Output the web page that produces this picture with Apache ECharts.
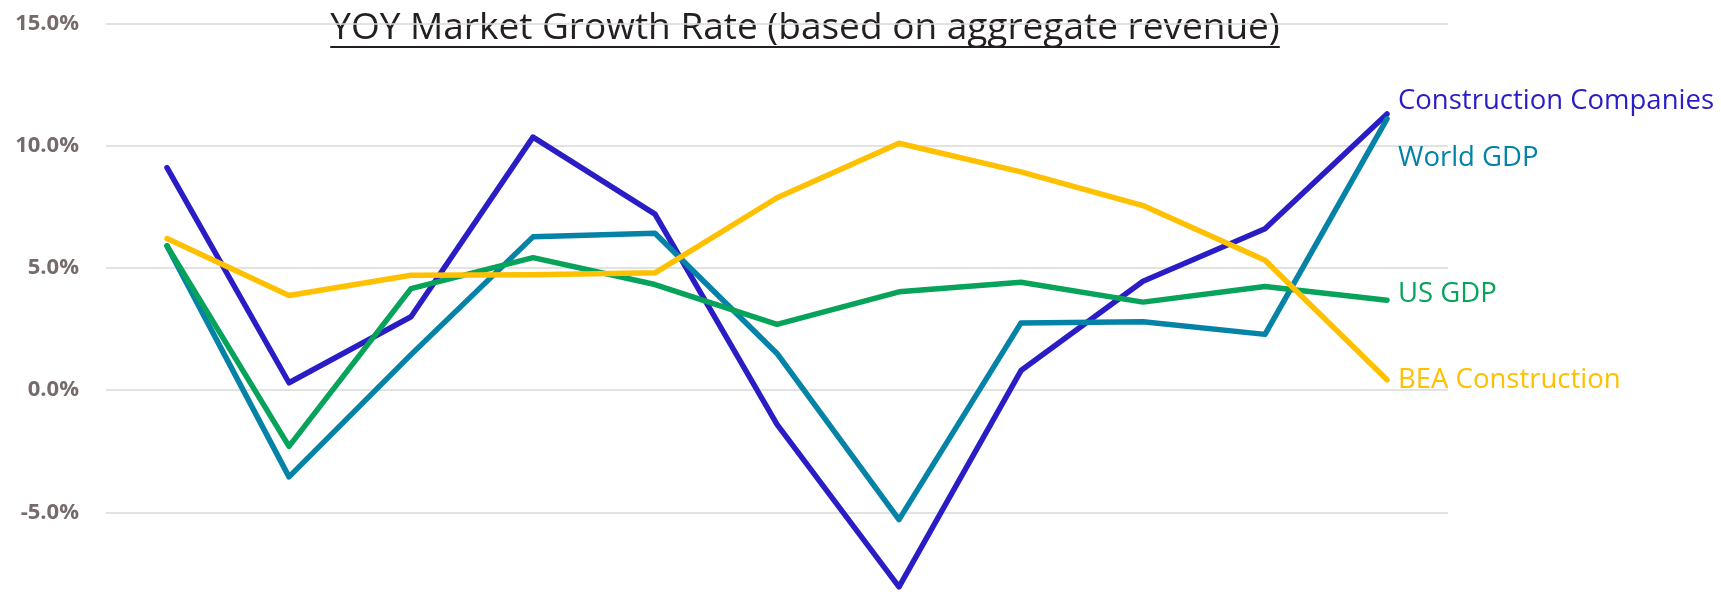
<!doctype html>
<html>
<head>
    <meta charset="utf-8">
    <title>YOY Market Growth Rate</title>
    <script src="https://cdn.jsdelivr.net/npm/echarts@6/dist/echarts.min.js"></script>
    <style>
        html, body { margin: 0; padding: 0; background: #fff; }
    </style>
</head>
<body>

    <div id="main" style="width:1721px;height:594px;"></div>

    <script type="text/javascript">
        var chart = echarts.init(document.getElementById('main'));

        // periods (no axis labels shown in the source chart)
        var periods = ['1', '2', '3', '4', '5', '6', '7', '8', '9', '10', '11'];

        // YOY growth, percent
        var constructionCompanies = [9.1, 0.3, 3.0, 10.35, 7.2, -1.4, -8.05, 0.8, 4.45, 6.6, 11.3];
        var worldGdp = [5.9, -3.55, 1.45, 6.27, 6.42, 1.5, -5.3, 2.75, 2.8, 2.28, 11.1];
        var usGdp = [5.9, -2.3, 4.15, 5.42, 4.32, 2.69, 4.02, 4.41, 3.6, 4.24, 3.68];
        var beaConstruction = [6.2, 3.87, 4.7, 4.72, 4.8, 7.87, 10.1, 8.93, 7.55, 5.31, 0.42];

        var yTicks = [-10, -5, 0, 5, 10, 15];

        var titleText = 'YOY Market Growth Rate (based on aggregate revenue)';
        var titleFont = '37px "Open Sans", sans-serif';

        // underline the title: measure its width
        var ctx = document.createElement('canvas').getContext('2d');
        ctx.font = titleFont;
        var titleW = ctx.measureText(titleText).width;
        var titleX = 805;

        function line(name, data, color, dy) {
            return {
                name: name,
                type: 'line',
                data: data,
                symbol: 'none',
                lineStyle: { width: 5.5, color: color, cap: 'round', join: 'round' },
                itemStyle: { color: color },
                emphasis: { disabled: true },
                endLabel: {
                    show: true,
                    formatter: '{a}',
                    color: color,
                    fontFamily: 'Open Sans',
                    fontSize: 27.5,
                    distance: 11,
                    offset: [0, dy]
                }
            };
        }

        var option = {
            animation: false,
            grid: { left: 106, width: 1342, top: 23.5, height: 611, outerBoundsMode: 'none' },
            xAxis: {
                type: 'category',
                data: periods,
                boundaryGap: true,
                axisLine: { show: false },
                axisTick: { show: false },
                axisLabel: { show: false }
            },
            yAxis: {
                type: 'value',
                min: yTicks[0],
                max: yTicks[yTicks.length - 1],
                interval: 5,
                axisLine: { show: false },
                axisTick: { show: false },
                axisLabel: {
                    show: true,
                    margin: 27,
                    align: 'right',
                    color: '#766a6b',
                    fontFamily: 'Open Sans',
                    fontWeight: 'bold',
                    fontSize: 22,
                    formatter: function (v) { return v.toFixed(1) + '%'; }
                },
                splitLine: { lineStyle: { color: '#d9d9d9', width: 1.5 } }
            },
            graphic: [{
                type: 'text',
                x: titleX,
                y: 28,
                style: {
                    text: titleText,
                    font: titleFont,
                    fill: '#231f20',
                    align: 'center',
                    verticalAlign: 'middle'
                }
            }, {
                type: 'line',
                shape: { x1: titleX - titleW / 2, y1: 47, x2: titleX + titleW / 2, y2: 47 },
                style: { stroke: '#231f20', lineWidth: 2 }
            }],
            series: [
                line('Construction Companies', constructionCompanies, '#2a1dc5', -13),
                line('World GDP', worldGdp, '#0483a7', 39),
                line('US GDP', usGdp, '#07a35a', -6),
                line('BEA Construction', beaConstruction, '#ffc000', 0)
            ]
        };

        chart.setOption(option);
    </script>
</body>
</html>
